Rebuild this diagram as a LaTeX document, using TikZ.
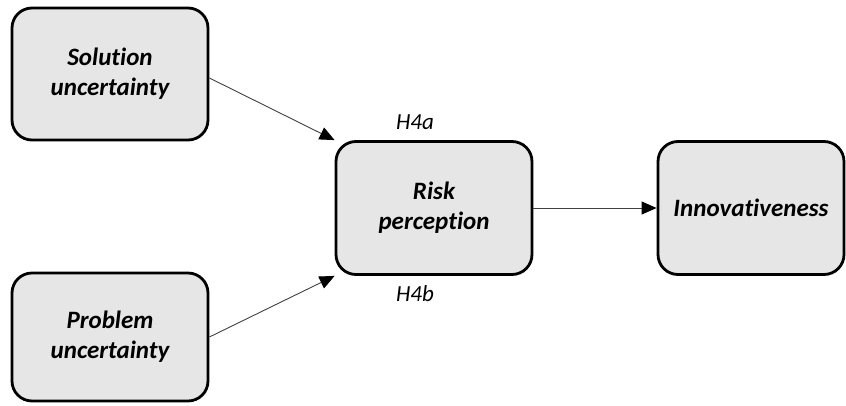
\documentclass[tikz,border=0pt]{standalone}
\usepackage{fontspec}
\setmainfont{Carlito}[Ligatures={NoCommon}]
\usepackage{tikz}
\usetikzlibrary{positioning, arrows.meta}
\definecolor{boxgray}{HTML}{E7E6E6}
\definecolor{linegray}{HTML}{404040}
\tikzset{
  >={Triangle[length=15pt, width=13pt, color=black]},
  construct/.style={
    rectangle, rounded corners=20pt, draw=black, fill=boxgray,
    line width=2.8pt, align=center, inner sep=4pt,
    font=\fontsize{25}{30}\selectfont\bfseries\itshape
  },
  path/.style={->, linegray, line width=0.9pt},
  hyplabel/.style={font=\fontsize{23}{27}\selectfont\itshape}
}
\begin{document}
\begin{tikzpicture}[x=1pt, y=-1pt]
\useasboundingbox (0,0) rectangle (846,405);

% Constructs
\node[construct, minimum width=196pt, minimum height=132pt] (sol)   at (110, 74)  {Solution\\uncertainty};
\node[construct, minimum width=196pt, minimum height=128pt] (prob)  at (110, 337) {Problem\\uncertainty};
\node[construct, minimum width=196pt, minimum height=133pt] (risk)  at (434, 208) {Risk\\perception};
\node[construct, minimum width=186pt, minimum height=133pt] (innov) at (751, 208) {Innovativeness};

% Hypothesis labels
\node[hyplabel] (h4a) at (415, 122) {H4a};
\node[hyplabel] (h4b) at (415, 294) {H4b};

% Paths
\draw[path] (sol.east) ++(0,4) -- (risk.north west);
\draw[path] (prob.east) -- (risk.south west);
\draw[path] (risk.east) -- (innov.west);

\end{tikzpicture}
\end{document}
